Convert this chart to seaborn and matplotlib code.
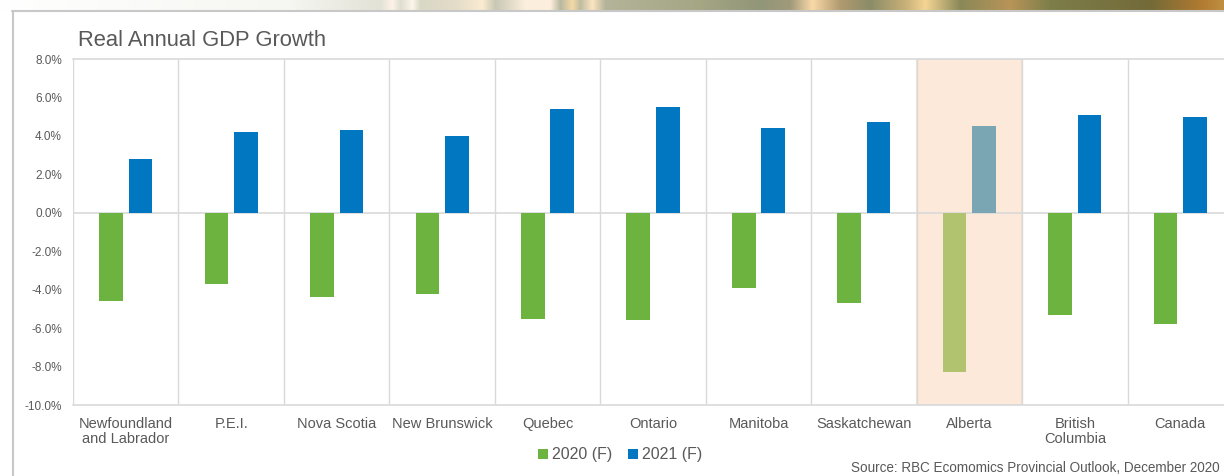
import numpy as np
import pandas as pd
import matplotlib
matplotlib.use("Agg")
import matplotlib.pyplot as plt
import seaborn as sns
from matplotlib.patches import Patch
from matplotlib.lines import Line2D
from matplotlib.colors import to_rgb

# ---- data ----
regions = ["Newfoundland\nand Labrador", "P.E.I.", "Nova Scotia", "New Brunswick",
           "Quebec", "Ontario", "Manitoba", "Saskatchewan", "Alberta",
           "British\nColumbia", "Canada"]
series_names = ["2020 (F)", "2021 (F)"]
growth_2020 = [-4.6, -3.7, -4.4, -4.2, -5.5, -5.6, -3.9, -4.7, -8.3, -5.3, -5.8]
growth_2021 = [2.8, 4.2, 4.3, 4.0, 5.4, 5.5, 4.4, 4.7, 4.5, 5.1, 5.0]
highlight = "Alberta"
title = "Real Annual GDP Growth"
source = "Source: RBC Ecomomics Provincial Outlook, December 2020"
y_ticks = [-10, -8, -6, -4, -2, 0, 2, 4, 6, 8]

df = pd.DataFrame({
    "region": regions * 2,
    "year": [series_names[0]] * len(regions) + [series_names[1]] * len(regions),
    "value": growth_2020 + growth_2021,
})

# ---- style ----
sns.set_theme(style="white")
plt.rcParams["font.family"] = ["Liberation Sans", "DejaVu Sans"]
TXT = "#595959"
GRID = "#D9D9D9"
GREEN = "#6DB33F"
BLUE = "#0077C0"
GREEN_HL = "#B1C36F"
BLUE_HL = "#7AA5B3"
BAND = "#FDE9D9"

W, H = 1224, 476
fig = plt.figure(figsize=(W / 100, H / 100), dpi=100)
fig.patch.set_facecolor("white")

# decorative banner at top
bx = fig.add_axes([0, 1 - 10 / H, 1, 10 / H])
keys = [(0, "#FFFFFF"), (290, "#F6F6F2"), (380, "#E2E2D6"), (392, "#FDF3E6"), (400, "#DEDED0"),
        (412, "#FDF5EA"), (420, "#D8D8C6"), (455, "#E4DCC8"), (482, "#FBEBD2"), (495, "#C8C8B4"),
        (525, "#FCEEDC"), (550, "#FCEEDC"), (560, "#B8B8A0"), (572, "#F4D9A8"), (580, "#C0BCA0"),
        (592, "#FBE5C0"), (605, "#B4B49A"), (700, "#A4A684"), (760, "#929678"), (790, "#A09A7A"),
        (812, "#FAD9A8"), (840, "#B09A70"), (870, "#8A8C68"), (905, "#C8B078"), (925, "#F5D594"),
        (960, "#8A8858"), (1010, "#B89458"), (1050, "#7D7E4A"), (1150, "#736A38"), (1200, "#B07A30"),
        (1224, "#C09040")]
xs = np.arange(W)
kx = np.array([k[0] for k in keys], dtype=float)
kc = np.array([to_rgb(k[1]) for k in keys])
grad = np.stack([np.interp(xs, kx, kc[:, i]) for i in range(3)], axis=-1)[None, :, :]
bx.imshow(grad, aspect="auto", interpolation="bilinear")
bx.set_axis_off()

# slide frame lines
fig.add_artist(Line2D([12 / W, 1], [1 - 10.5 / H] * 2, color="#C8C8C8", lw=1.5, transform=fig.transFigure))
fig.add_artist(Line2D([12.5 / W] * 2, [0, 1 - 10.5 / H], color="#C8C8C8", lw=1.5, transform=fig.transFigure))

# main axes
ax = fig.add_axes([73 / W, 1 - 405 / H, 1160 / W, (405 - 59) / H])
ax.set_facecolor("white")
sns.barplot(data=df, x="region", y="value", hue="year", palette=[GREEN, BLUE],
            width=0.56, gap=0.2, ax=ax, legend=False, zorder=3, saturation=1,
            edgecolor="none")

hi = regions.index(highlight)
ax.containers[0][hi].set_facecolor(GREEN_HL)
ax.containers[1][hi].set_facecolor(BLUE_HL)

ax.axvspan(hi - 0.5, hi + 0.5, facecolor=BAND, edgecolor="#F3DCC6", lw=1.2, zorder=0)
ax.axhline(0, color=GRID, lw=1.2, zorder=1)
for b in np.arange(-0.5, len(regions), 1.0):
    ax.axvline(b, color=GRID, lw=1.0, zorder=1)

ax.set_xlim(-0.5, len(regions) - 0.5)
ax.set_ylim(-10, 8)
ax.set_yticks(y_ticks)
ax.set_yticklabels([f"{v:.1f}%" for v in y_ticks])
ax.tick_params(axis="y", length=0, pad=8, labelsize=8.5, labelcolor=TXT)
ax.tick_params(axis="x", length=0, pad=8.5, labelsize=10.5, labelcolor=TXT)
for lab in ax.get_xticklabels():
    lab.set_linespacing(1.1)
ax.set_xlabel("")
ax.set_ylabel("")
for s in ["left", "right"]:
    ax.spines[s].set_visible(False)
for s in ["top", "bottom"]:
    ax.spines[s].set_color(GRID)
    ax.spines[s].set_linewidth(1.2)

fig.text(78 / W, 1 - 40 / H, title, fontsize=15.8, color=TXT, va="center", ha="left")

handles = [Patch(facecolor=GREEN, edgecolor="none", label=series_names[0]),
           Patch(facecolor=BLUE, edgecolor="none", label=series_names[1])]
fig.legend(handles=handles, loc="center", bbox_to_anchor=(620 / W, 1 - 455 / H), ncol=2,
           frameon=False, fontsize=11.5, labelcolor=TXT, handlelength=0.6, handleheight=0.6,
           handletextpad=0.25, columnspacing=1.0)

fig.text(1220 / W, 1 - 468 / H, source, fontsize=9.75, color=TXT, ha="right", va="center")

fig.savefig("out.png", dpi=100, facecolor="white")
